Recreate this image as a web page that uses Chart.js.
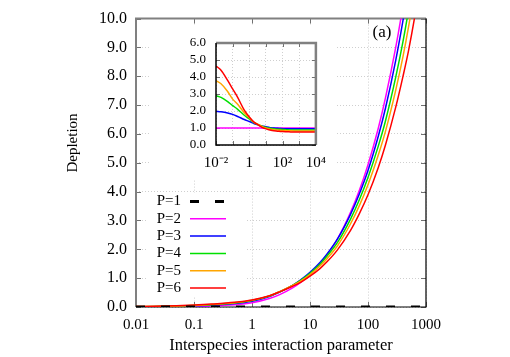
<!DOCTYPE html>
<html><head><meta charset="utf-8">
<script src="https://cdn.jsdelivr.net/npm/chart.js@4/dist/chart.umd.min.js"></script>
<style>
html,body{margin:0;padding:0;background:#fff;}
#wrap{position:relative;width:510px;height:357px;overflow:hidden;}
#main{position:absolute;left:0;top:0;}
#inset{position:absolute;left:150px;top:25px;background:#fff;}
</style>
</head><body>
<div id="wrap"><canvas id="main" width="510" height="357"></canvas><canvas id="inset" width="185" height="155"></canvas></div>
<script>
// ---- data ----
const seriesLabels = ['P=1','P=2','P=3','P=4','P=5','P=6'];
const xMain = [0.01,0.02,0.05,0.1,0.2,0.5,1,2,3,5,7,10,15,20,30,50,70,100,150,200,300,400,500,700,1000];
const p1 = [0,0,0,0,0,0,0,0,0,0,0,0,0,0,0,0,0,0,0,0,0,0,0,0,0];
const p2 = [0.0035,0.006,0.012,0.0207,0.036,0.079,0.147,0.293,0.431,0.665,0.864,1.124,1.49,1.82,2.37,3.28,4.01,4.93,6.19,7.25,8.99,10.44,11.7,13.85,16.5];
const p3 = [0.0069,0.0117,0.0226,0.0373,0.0605,0.1185,0.203,0.366,0.517,0.751,0.95,1.203,1.55,1.856,2.37,3.214,3.89,4.73,5.91,6.89,8.54,9.92,11.1,13.16,15.7];
const p4 = [0.0102,0.0168,0.0306,0.048,0.0756,0.138,0.225,0.381,0.53,0.751,0.933,1.169,1.49,1.784,2.25,3.05,3.69,4.49,5.57,6.45,7.96,9.19,10.3,12.19,14.52];
const p5 = [0.0132,0.0216,0.0378,0.0559,0.0864,0.15,0.235,0.387,0.534,0.745,0.907,1.124,1.43,1.693,2.133,2.886,3.49,4.24,5.26,6.09,7.51,8.67,9.71,11.5,13.7];
const p6 = [0.0163,0.0264,0.0456,0.0683,0.1008,0.162,0.243,0.39,0.526,0.718,0.864,1.068,1.341,1.583,1.99,2.657,3.21,3.89,4.83,5.62,6.92,7.99,8.89,10.53,12.54];

const xInset = [0.01,0.02,0.05,0.1,0.2,0.5,1,2,3,5,7,10,15,20,30,50,70,100,150,200,300,500,1000,10000];
const r2 = [1,1,1,1,1,1,1,1,1,1,1,1,1,1,1,1,1,1,1,1,1,1,1,1];
const r3 = [1.98,1.95,1.88,1.8,1.68,1.5,1.38,1.25,1.2,1.13,1.1,1.07,1.04,1.02,1.0,0.98,0.97,0.96,0.955,0.95,0.95,0.95,0.95,0.95];
const r4 = [2.9,2.8,2.55,2.32,2.1,1.75,1.53,1.3,1.23,1.13,1.08,1.04,1.0,0.98,0.95,0.93,0.92,0.91,0.9,0.89,0.885,0.88,0.88,0.88];
const r5 = [3.78,3.6,3.15,2.7,2.4,1.9,1.6,1.32,1.24,1.12,1.05,1.0,0.96,0.93,0.9,0.88,0.87,0.86,0.85,0.84,0.835,0.83,0.83,0.83];
const r6 = [4.65,4.4,3.8,3.3,2.8,2.05,1.65,1.33,1.22,1.08,1.0,0.95,0.9,0.87,0.84,0.81,0.8,0.79,0.78,0.775,0.77,0.76,0.76,0.76];

const xTicks = [0.01,0.1,1,10,100,1000];
const xTickLabels = ['0.01','0.1','1','10','100','1000'];
const yTicks = [0,1,2,3,4,5,6,7,8,9,10];
const yTickLabels = ['0.0','1.0','2.0','3.0','4.0','5.0','6.0','7.0','8.0','9.0','10.0'];
const insetXTicks = [0.01,0.1,1,10,100,1000,10000];
const insetXTickLabels = ['10\u207B\u00B2','','1','','10\u00B2','','10\u2074'];
const insetYTicks = [0,1,2,3,4,5,6];
const insetYTickLabels = ['0.0','1.0','2.0','3.0','4.0','5.0','6.0'];

const xTitle = 'Interspecies interaction parameter';
const yTitle = 'Depletion';
const panelLabel = '(a)';

// ---- styles ----
const FONT = "'Liberation Serif','Times New Roman',serif";
const colors = ['#000000','#ff00ff','#0000ff','#00e000','#ffa500','#ff0000'];
const pts = (xs, ys) => xs.map((x,i)=>({x:x,y:ys[i]}));

const mainSeries = [p1,p2,p3,p4,p5,p6];
const orders = [0,5,4,3,2,1];
const mainDatasets = mainSeries.map((s,i)=>({
  label: seriesLabels[i],
  data: pts(xMain, s),
  borderColor: colors[i],
  backgroundColor: colors[i],
  borderWidth: i===0 ? 3 : 1.5,
  borderDash: i===0 ? [9,16] : [],
  pointRadius: 0,
  fill: false,
  cubicInterpolationMode: 'monotone',
  order: orders[i]
}));

const insetSeries = [r2,r3,r4,r5,r6];
const insetDatasets = insetSeries.map((s,i)=>({
  label: seriesLabels[i+1],
  data: pts(xInset, s),
  borderColor: colors[i+1],
  borderWidth: 1.5,
  pointRadius: 0,
  fill: false,
  cubicInterpolationMode: 'monotone',
  order: 5-i
}));

function drawTickMarks(chart, tickLen){
  const {ctx, chartArea:a, scales} = chart;
  ctx.save();
  ctx.strokeStyle = '#707070';
  ctx.lineWidth = 1;
  ctx.beginPath();
  scales.x.ticks.forEach(t=>{
    const px = Math.round(scales.x.getPixelForValue(t.value))+0.5;
    ctx.moveTo(px, a.bottom); ctx.lineTo(px, a.bottom - tickLen);
    ctx.moveTo(px, a.top); ctx.lineTo(px, a.top + tickLen);
  });
  scales.y.ticks.forEach(t=>{
    const py = Math.round(scales.y.getPixelForValue(t.value))+0.5;
    ctx.moveTo(a.left, py); ctx.lineTo(a.left + tickLen, py);
    ctx.moveTo(a.right, py); ctx.lineTo(a.right - tickLen, py);
  });
  ctx.stroke();
  ctx.restore();
}

const mainPlugin = {
  id: 'mainDeco',
  beforeDatasetsDraw(chart){
    const {ctx, chartArea:a} = chart;
    ctx.save();
    ctx.fillStyle = '#fff';
    ctx.fillRect(148, 193, 97, 104);
    ctx.restore();
    drawTickMarks(chart, 5);
    ctx.save();
    ctx.lineWidth = 2; ctx.strokeStyle = '#808080';
    ctx.beginPath();
    ctx.moveTo(a.left, a.bottom); ctx.lineTo(a.left, a.top); ctx.lineTo(a.right, a.top);
    ctx.stroke();
    ctx.lineWidth = 1.2; ctx.strokeStyle = '#000';
    ctx.beginPath();
    ctx.moveTo(a.right, a.top); ctx.lineTo(a.right, a.bottom); ctx.lineTo(a.left, a.bottom);
    ctx.stroke();
    ctx.restore();
  },
  afterDraw(chart){
    const {ctx} = chart;
    ctx.save();
    ctx.fillStyle = '#000';
    ctx.font = '15px ' + FONT;
    ctx.textAlign = 'center'; ctx.textBaseline = 'middle';
    ctx.translate(73, 143); ctx.rotate(-Math.PI/2);
    ctx.fillText(yTitle, 0, 0);
    ctx.restore();
    ctx.save();
    ctx.fillStyle = '#000';
    ctx.font = '17px ' + FONT;
    ctx.textAlign = 'center'; ctx.textBaseline = 'middle';
    ctx.fillText(panelLabel, 382, 33);
    ctx.restore();
    ctx.save();
    chart.data.datasets.forEach((d,i)=>{
      const y = 201.5 + i*17.3;
      ctx.fillStyle = '#000';
      ctx.font = '15px ' + FONT;
      ctx.textAlign = 'right'; ctx.textBaseline = 'middle';
      ctx.fillText(d.label, 181, y);
      ctx.strokeStyle = d.borderColor;
      ctx.lineWidth = d.borderWidth;
      ctx.setLineDash(d.borderDash || []);
      ctx.beginPath(); ctx.moveTo(190, y); ctx.lineTo(226, y); ctx.stroke();
      ctx.setLineDash([]);
    });
    ctx.restore();
  }
};

const insetPlugin = {
  id: 'insetDeco',
  beforeDatasetsDraw(chart){
    drawTickMarks(chart, 4);
  },
  afterDatasetsDraw(chart){
    const {ctx, chartArea:a} = chart;
    ctx.save();
    ctx.lineWidth = 2.5; ctx.strokeStyle = '#808080';
    ctx.beginPath();
    ctx.moveTo(a.left, a.top); ctx.lineTo(a.right, a.top); ctx.lineTo(a.right, a.bottom);
    ctx.stroke();
    ctx.lineWidth = 1.5; ctx.strokeStyle = '#000';
    ctx.beginPath();
    ctx.moveTo(a.left, a.top); ctx.lineTo(a.left, a.bottom); ctx.lineTo(a.right, a.bottom);
    ctx.stroke();
    ctx.restore();
  }
};

const gridOpts = {color:'#cfcfcf', drawTicks:false, lineWidth:1};
const borderOpts = {display:false, dash:[1,2]};

new Chart(document.getElementById('main'), {
  type: 'line',
  data: {datasets: mainDatasets},
  options: {
    responsive:false, animation:false, events:[],
    layout:{padding:{left:0,right:84,top:17,bottom:0}},
    plugins:{legend:{display:false}, tooltip:{enabled:false}},
    scales:{
      x:{type:'logarithmic', min:0.01, max:1000,
        afterBuildTicks:s=>{s.ticks = xTicks.map(v=>({value:v}));},
        afterFit:s=>{s.height = 50;},
        ticks:{callback:(v,i)=>xTickLabels[i], color:'#000', font:{family:FONT,size:15}, padding:9, maxRotation:0, autoSkip:false},
        grid:gridOpts, border:borderOpts,
        title:{display:true, text:xTitle, color:'#000', font:{family:FONT,size:16.5}, padding:{top:0,bottom:1}}
      },
      y:{type:'linear', min:0, max:10,
        afterBuildTicks:s=>{s.ticks = yTicks.map(v=>({value:v}));},
        afterFit:s=>{s.width = 136;},
        ticks:{callback:(v,i)=>yTickLabels[i], color:'#000', font:{family:FONT,size:16}, padding:9, autoSkip:false},
        grid:gridOpts, border:borderOpts
      }
    }
  },
  plugins:[mainPlugin]
});

new Chart(document.getElementById('inset'), {
  type: 'line',
  data: {datasets: insetDatasets},
  options: {
    responsive:false, animation:false, events:[],
    layout:{padding:{left:0,right:16,top:18,bottom:0}},
    plugins:{legend:{display:false}, tooltip:{enabled:false}},
    scales:{
      x:{type:'logarithmic', min:0.01, max:10000,
        afterBuildTicks:s=>{s.ticks = insetXTicks.map(v=>({value:v}));},
        afterFit:s=>{s.height = 35;},
        ticks:{callback:(v,i)=>insetXTickLabels[i], color:'#000', font:{family:FONT,size:15}, padding:9, maxRotation:0, autoSkip:false},
        grid:gridOpts, border:borderOpts
      },
      y:{type:'linear', min:0, max:6,
        afterBuildTicks:s=>{s.ticks = insetYTicks.map(v=>({value:v}));},
        afterFit:s=>{s.width = 66;},
        ticks:{callback:(v,i)=>insetYTickLabels[i], color:'#000', font:{family:FONT,size:13}, padding:10, autoSkip:false},
        grid:gridOpts, border:borderOpts
      }
    }
  },
  plugins:[insetPlugin]
});
</script>
</body></html>
